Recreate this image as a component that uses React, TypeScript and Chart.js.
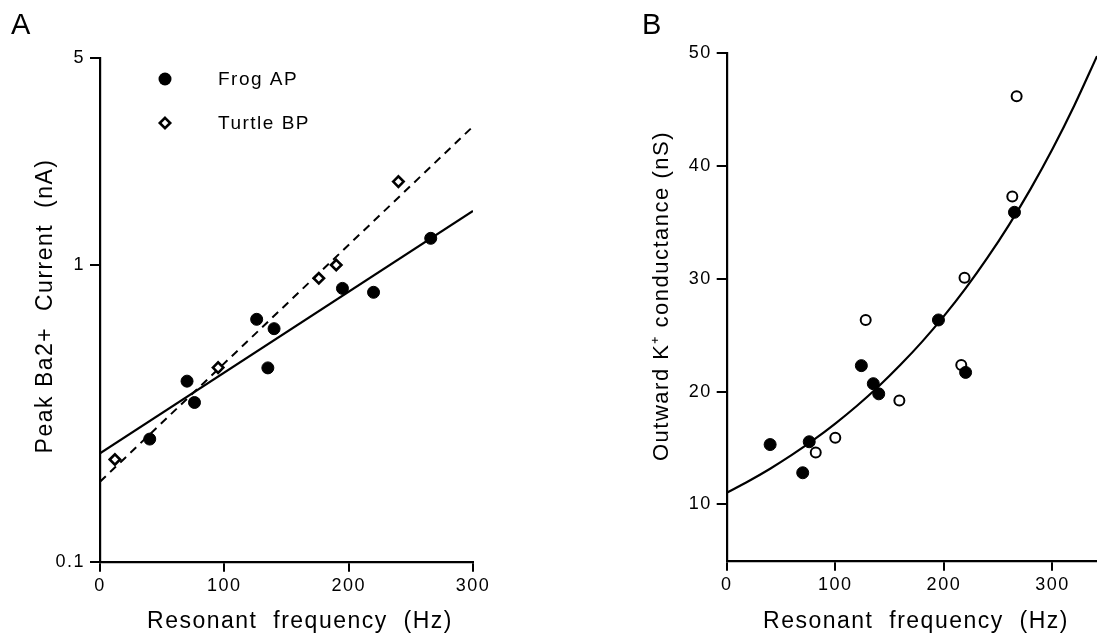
import React, { useEffect, useRef } from 'react';
import { Chart, registerables } from 'chart.js';

Chart.register(...registerables);

const FONT = '"Liberation Sans", Arial, Helvetica, sans-serif';
const LETTER_SPACING = '1.5px';

// ---------------- Panel A data ----------------
const frogApHz = [40, 70, 76, 126, 135, 140, 195, 220, 266];
const frogApCurrent = [0.259, 0.406, 0.344, 0.656, 0.45, 0.61, 0.834, 0.809, 1.23];
const turtleBpHz = [12, 95, 176, 190, 240];
const turtleBpCurrent = [0.221, 0.451, 0.902, 1.0, 1.91];
const frogFitHz = [0, 300];
const frogFitCurrent = [0.232, 1.52];
const turtleFitHz = [0, 300];
const turtleFitCurrent = [0.186, 2.93];
const xTicksA = [0, 100, 200, 300];
const yTicksA = [0.1, 1, 5];
const legendLabelsA = ['Frog AP', 'Turtle BP'];

// ---------------- Panel B data ----------------
const frogBHz = [40, 70, 76, 124, 135, 140, 195, 220, 265];
const frogBConductance = [15.3, 12.8, 15.55, 22.3, 20.7, 19.8, 26.35, 21.7, 35.9];
const turtleBHz = [82, 100, 128, 159, 216, 219, 263, 267];
const turtleBConductance = [14.6, 15.9, 26.35, 19.2, 22.35, 30.1, 37.3, 46.2];
const curveBHz = [0, 20, 40, 60, 80, 100, 120, 140, 160, 180, 200, 220, 240, 260, 280, 300, 320, 341];
const curveBConductance = [11.03, 12.05, 13.16, 14.38, 15.71, 17.16, 18.74, 20.47, 22.37, 24.43, 26.69, 29.15, 31.85, 34.79, 38.0, 41.51, 45.35, 49.75];
const xTicksB = [0, 100, 200, 300];
const yTicksB = [10, 20, 30, 40, 50];

const toPoints = (xs: number[], ys: number[]) => xs.map((x, i) => ({ x, y: ys[i] }));

type TextItem = {
  text: string;
  x: number;
  y: number;
  size: number;
  rot?: number;
  align?: CanvasTextAlign;
  baseline?: CanvasTextBaseline;
  spacing?: string;
};

type LegendItem = { label: string; kind: 'filled' | 'diamond'; x: number; y: number; textX: number };

function makeDecor(texts: TextItem[], legend: LegendItem[]) {
  return {
    id: 'decor',
    beforeUpdate(chart: any) {
      chart.ctx.letterSpacing = LETTER_SPACING;
    },
    beforeDraw(chart: any) {
      chart.ctx.letterSpacing = LETTER_SPACING;
    },
    afterDraw(chart: any) {
      const ctx: CanvasRenderingContext2D = chart.ctx;
      for (const t of texts) {
        ctx.save();
        (ctx as any).letterSpacing = t.spacing || LETTER_SPACING;
        ctx.fillStyle = '#000';
        ctx.font = `${t.size}px ${FONT}`;
        ctx.textAlign = t.align || 'center';
        ctx.textBaseline = t.baseline || 'middle';
        ctx.translate(t.x, t.y);
        if (t.rot) ctx.rotate(t.rot);
        ctx.fillText(t.text, 0, 0);
        ctx.restore();
      }
      for (const l of legend) {
        ctx.save();
        ctx.strokeStyle = '#000';
        ctx.fillStyle = '#000';
        if (l.kind === 'filled') {
          ctx.beginPath();
          ctx.arc(l.x, l.y, 6.5, 0, Math.PI * 2);
          ctx.fill();
        } else {
          const r = 5.2;
          ctx.beginPath();
          ctx.moveTo(l.x, l.y - r);
          ctx.lineTo(l.x + r, l.y);
          ctx.lineTo(l.x, l.y + r);
          ctx.lineTo(l.x - r, l.y);
          ctx.closePath();
          ctx.fillStyle = '#fff';
          ctx.fill();
          ctx.lineWidth = 2.6;
          ctx.stroke();
        }
        (ctx as any).letterSpacing = LETTER_SPACING;
        ctx.fillStyle = '#000';
        ctx.font = `19px ${FONT}`;
        ctx.textAlign = 'left';
        ctx.textBaseline = 'middle';
        ctx.fillText(l.label, l.textX, l.y + 1);
        ctx.restore();
      }
    },
  };
}

const axisStyle = {
  grid: {
    display: true,
    drawOnChartArea: false,
    drawTicks: true,
    tickLength: 10,
    tickWidth: 2,
    tickColor: '#000',
    color: '#000',
    lineWidth: 2,
  },
  border: { display: true, color: '#000', width: 2.2 },
};

const tickFont = { family: FONT, size: 18 };

function buildPanelA(): any {
  const texts: TextItem[] = [
    { text: 'A', x: 11, y: 34, size: 29, align: 'left', baseline: 'alphabetic', spacing: '0px' },
    { text: 'Resonant  frequency  (Hz)', x: 300, y: 622, size: 23 },
    { text: 'Peak Ba2+  Current  (nA)', x: 46, y: 306, size: 23, rot: -Math.PI / 2 },
  ];
  const legend: LegendItem[] = [
    { label: legendLabelsA[0], kind: 'filled', x: 165, y: 79, textX: 218 },
    { label: legendLabelsA[1], kind: 'diamond', x: 165, y: 123, textX: 218 },
  ];
  return {
    type: 'scatter',
    data: {
      datasets: [
        {
          label: legendLabelsA[0],
          data: toPoints(frogApHz, frogApCurrent),
          pointStyle: 'circle',
          pointRadius: 6,
          pointBackgroundColor: '#000',
          pointBorderColor: '#000',
          pointBorderWidth: 1,
          showLine: false,
          order: 0,
        },
        {
          label: legendLabelsA[1],
          data: toPoints(turtleBpHz, turtleBpCurrent),
          pointStyle: 'rectRot',
          pointRadius: 5.2,
          pointBackgroundColor: '#fff',
          pointBorderColor: '#000',
          pointBorderWidth: 2.6,
          showLine: false,
          order: 1,
        },
        {
          label: 'Frog AP fit',
          data: toPoints(frogFitHz, frogFitCurrent),
          showLine: true,
          pointRadius: 0,
          borderColor: '#000',
          borderWidth: 2.2,
          order: 3,
        },
        {
          label: 'Turtle BP fit',
          data: toPoints(turtleFitHz, turtleFitCurrent),
          showLine: true,
          pointRadius: 0,
          borderColor: '#000',
          borderWidth: 2,
          borderDash: [8, 6],
          order: 2,
        },
      ],
    },
    options: {
      responsive: false,
      animation: false,
      devicePixelRatio: 1,
      layout: { autoPadding: false, padding: { top: 57.6, right: 87, bottom: 0, left: 0 } },
      plugins: { legend: { display: false }, tooltip: { enabled: false }, title: { display: false } },
      events: [],
      scales: {
        x: {
          type: 'linear',
          min: 0,
          max: 300,
          ...axisStyle,
          afterBuildTicks: (s: any) => {
            s.ticks = xTicksA.map((v) => ({ value: v }));
          },
          afterFit: (s: any) => {
            s.height = 80.3;
            s.paddingRight = 0;
            s.paddingLeft = 0;
          },
          ticks: { color: '#000', font: tickFont, padding: 4, autoSkip: false, maxRotation: 0, callback: (v: any) => String(v) },
          title: { display: false },
        },
        y: {
          type: 'logarithmic',
          min: 0.1,
          max: 5,
          ...axisStyle,
          afterBuildTicks: (s: any) => {
            s.ticks = yTicksA.map((v) => ({ value: v }));
          },
          afterFit: (s: any) => {
            s.width = 100;
            s.paddingTop = 0;
            s.paddingBottom = 0;
          },
          ticks: { color: '#000', font: tickFont, padding: 5, autoSkip: false, callback: (v: any) => String(v) },
          title: { display: false },
        },
      },
    },
    plugins: [makeDecor(texts, legend)],
  };
}

function buildPanelB(): any {
  const texts: TextItem[] = [
    { text: 'B', x: 82, y: 34, size: 29, align: 'left', baseline: 'alphabetic', spacing: '0px' },
    { text: 'Resonant  frequency  (Hz)', x: 356, y: 622, size: 23 },
    { text: 'Outward K\u207A conductance (nS)', x: 102, y: 296, size: 22, rot: -Math.PI / 2 },
  ];
  return {
    type: 'scatter',
    data: {
      datasets: [
        {
          label: 'Frog AP',
          data: toPoints(frogBHz, frogBConductance),
          pointStyle: 'circle',
          pointRadius: 6,
          pointBackgroundColor: '#000',
          pointBorderColor: '#000',
          pointBorderWidth: 1,
          showLine: false,
          order: 0,
        },
        {
          label: 'Turtle BP',
          data: toPoints(turtleBHz, turtleBConductance),
          pointStyle: 'circle',
          pointRadius: 5,
          pointBackgroundColor: '#fff',
          pointBorderColor: '#000',
          pointBorderWidth: 2,
          showLine: false,
          order: 1,
        },
        {
          label: 'Fit',
          data: toPoints(curveBHz, curveBConductance),
          showLine: true,
          pointRadius: 0,
          borderColor: '#000',
          borderWidth: 2.2,
          cubicInterpolationMode: 'monotone',
          order: 2,
        },
      ],
    },
    options: {
      responsive: false,
      animation: false,
      devicePixelRatio: 1,
      layout: { autoPadding: false, padding: { top: 53.3, right: 0, bottom: 0, left: 0 } },
      plugins: { legend: { display: false }, tooltip: { enabled: false }, title: { display: false } },
      events: [],
      scales: {
        x: {
          type: 'linear',
          min: 0,
          max: 341,
          ...axisStyle,
          afterBuildTicks: (s: any) => {
            s.ticks = xTicksB.map((v) => ({ value: v }));
          },
          afterFit: (s: any) => {
            s.height = 81.3;
            s.paddingRight = 0;
            s.paddingLeft = 0;
          },
          ticks: { color: '#000', font: tickFont, padding: 4, autoSkip: false, maxRotation: 0, callback: (v: any) => String(v) },
          title: { display: false },
        },
        y: {
          type: 'linear',
          min: 5,
          max: 50,
          ...axisStyle,
          afterBuildTicks: (s: any) => {
            s.ticks = yTicksB.map((v) => ({ value: v }));
          },
          afterFit: (s: any) => {
            s.width = 166.7;
            s.paddingTop = 0;
            s.paddingBottom = 0;
          },
          ticks: { color: '#000', font: tickFont, padding: 5, autoSkip: false, callback: (v: any) => String(v) },
          title: { display: false },
        },
      },
    },
    plugins: [makeDecor(texts, [])],
  };
}

function ChartCanvas({ left, width, build }: { left: number; width: number; build: () => any }) {
  const ref = useRef<HTMLCanvasElement>(null);
  useEffect(() => {
    if (!ref.current) return;
    const chart = new Chart(ref.current, build());
    return () => chart.destroy();
  }, [build]);
  return (
    <canvas
      ref={ref}
      width={width}
      height={642}
      style={{ position: 'absolute', left, top: 0, width, height: 642, display: 'block' }}
    />
  );
}

export default function App() {
  return (
    <div
      style={{
        position: 'absolute',
        left: 0,
        top: 0,
        width: 1097,
        height: 642,
        background: '#fff',
        overflow: 'hidden',
      }}
    >
      <ChartCanvas left={0} width={560} build={buildPanelA} />
      <ChartCanvas left={560} width={537} build={buildPanelB} />
    </div>
  );
}
